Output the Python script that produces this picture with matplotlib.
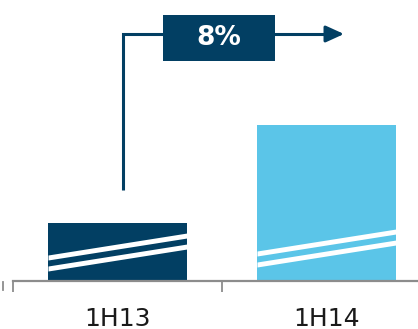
import numpy as np
import matplotlib.pyplot as plt
from matplotlib.lines import Line2D
from matplotlib.patches import Rectangle

# half-year revenue index, axis is broken so only the top part of each bar shows
periods = ['1H13', '1H14']
values = [100, 108]
bar_colors = ['#023F63', '#5BC5E8']
growth = (values[1] / values[0] - 1) * 100

navy = '#023F63'
W, H = 418, 329
fig = plt.figure(figsize=(W / 100, H / 100), dpi=100)
# axes runs from x=13px to 431px (one category gap = 209px), bottom at y=281px
ax = fig.add_axes([13 / W, (H - 281) / H, 418 / W, 281 / H])
ax.set_xlim(-0.5, 1.5)
y0 = 95.27
px = 12.25  # pixels per unit
ax.set_ylim(y0, y0 + 281 / px)


def dx(p):
    # pixel column -> data x
    return -0.5 + (p - 13) / 209


def dy(p):
    # pixel row -> data y
    return y0 + (281 - p) / px


x = np.arange(len(periods))
bw = 0.665
ax.bar(x, np.array(values) - y0, bottom=y0, width=bw, color=bar_colors, zorder=2)

# white slanted "break" stripes across each bar
for xi, off in zip(x, [0.0, 4.0]):
    xs = np.array([xi - bw / 2, xi + bw / 2])
    for lo in [10.0, 21.0]:
        ybot = y0 + (lo + off + np.array([0, 22])) / px
        ax.fill_between(xs, ybot, ybot + 5 / px, color='white', lw=0, zorder=3)

for s in ['top', 'right', 'left']:
    ax.spines[s].set_visible(False)
ax.spines['bottom'].set_color('#8C8C8C')
ax.spines['bottom'].set_linewidth(1.6)
ax.set_yticks([])
ax.set_xticks([-0.5, 0.5, 1.5])
ax.set_xticklabels([])
ax.tick_params(axis='x', length=8, width=1.3, color='#8C8C8C')
for xi, lab in zip(x, periods):
    ax.text(xi, dy(326), lab, ha='center', va='baseline', fontsize=18,
            color='#1A1A1A', clip_on=False)

# growth arrow: up from above the 1H13 bar, then across to the right
xa = dx(123)
ya = dy(34)
ax.plot([xa, xa, dx(330)], [dy(190), ya, ya],
        color=navy, lw=2.2, solid_capstyle='butt', solid_joinstyle='miter', zorder=4)
ax.annotate('', xy=(dx(344), ya), xytext=(dx(326), ya),
            arrowprops=dict(arrowstyle='-|>,head_length=1.1,head_width=0.5',
                            color=navy, lw=2.2, shrinkA=0, shrinkB=0), zorder=4)
ax.add_patch(Rectangle((dx(163), dy(61)), dx(275) - dx(163), dy(15) - dy(61),
                       fc=navy, ec='none', zorder=5))
ax.text(dx(219), dy(38), '%d%%' % round(growth),
        ha='center', va='center', fontsize=19, fontweight='bold', color='white',
        zorder=6)

# stub of the neighbouring axis at the far left
fig.add_artist(Line2D([3 / W, 3 / W], [(H - 290) / H, (H - 282) / H],
                      color='#8C8C8C', lw=1.3))

fig.savefig('out.png', dpi=100)
